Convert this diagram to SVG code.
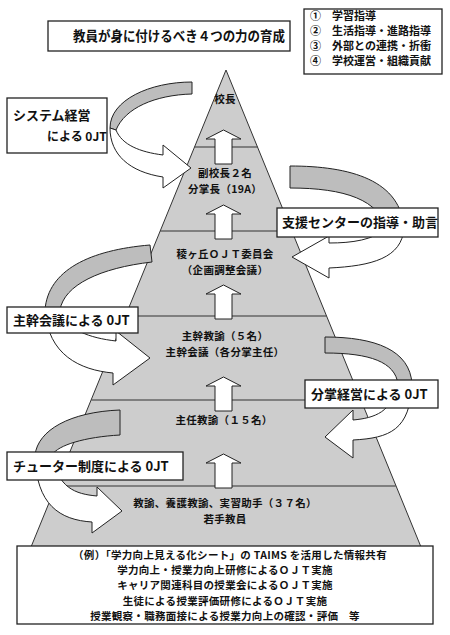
<svg xmlns="http://www.w3.org/2000/svg" xmlns:xlink="http://www.w3.org/1999/xlink" width="450" height="635" viewBox="0 0 450 635">
<style>
text{font-family:"Noto Sans CJK JP","Noto Sans",sans-serif;font-weight:700;fill:#111}
.box{fill:#fff;stroke:#222;stroke-width:1.3}
.band{fill:#bdbdbd;stroke:#222;stroke-width:1}
.front{fill:#fff;stroke:#222;stroke-width:1}
.up{fill:#fff;stroke:#222;stroke-width:1}
.div{stroke:#333;stroke-width:1.2}
.t11{font-size:10.5px;letter-spacing:0.3px}
.t13{font-size:13px}
.lg{font-size:11px}
.c{text-anchor:middle}
</style>
<defs>
<path id="uparrow" d="M223.5,0 L241,9 L232,9 L232,34 L215,34 L215,9 L206,9 Z"/>
</defs>
<rect width="450" height="635" fill="#fff"/>

<g id="pyramid">
<polygon points="226,70 421,547 31,547" fill="#cdcdcd" stroke="#333" stroke-width="1"/>
<line class="div" x1="194.6" y1="147" x2="257.4" y2="147"/>
<line class="div" x1="160.3" y1="231" x2="291.7" y2="231"/>
<line class="div" x1="125.6" y1="316" x2="326.4" y2="316"/>
<line class="div" x1="91.4" y1="400" x2="360.6" y2="400"/>
<line class="div" x1="56.3" y1="486" x2="395.7" y2="486"/>
</g>

<g id="level-up-arrows">
<use href="#uparrow" class="up" y="130"/>
<use href="#uparrow" class="up" y="205"/>
<use href="#uparrow" class="up" y="285"/>
<use href="#uparrow" class="up" y="377"/>
<use href="#uparrow" class="up" y="454"/>
</g>

<g id="level-1"><text class="t11 c" x="225" y="103">校長</text></g>
<g id="level-2"><text class="t11 c" x="225" y="177">副校長２名</text><text class="t11 c" x="225" y="192.5">分掌長（19A）</text></g>
<g id="level-3"><text class="t11 c" x="225" y="258">稜ヶ丘ＯＪＴ委員会</text><text class="t11 c" x="225" y="273.5">（企画調整会議）</text></g>
<g id="level-4"><text class="t11 c" x="225" y="340">主幹教諭（５名）</text><text class="t11 c" x="225" y="355.5">主幹会議（各分掌主任）</text></g>
<g id="level-5"><text class="t11 c" x="224" y="424">主任教諭（１５名）</text></g>
<g id="level-6"><text class="t11 c" x="225" y="507">教諭、養護教諭、実習助手（３７名）</text><text class="t11 c" x="225" y="522.5">若手教員</text></g>

<g id="connectors">
<!-- システム経営 -->
<path class="band" d="M192,82 C150,82 110,100 110,128 L116,130 C125,108 155,95 192,94 Z"/>
<path class="front" d="M110,128 C110,155 130,172 163,177 L163,188 L191,168 L163,145 L163,155 C140,152 122,145 116,130 Z"/>
<!-- 支援センター -->
<path class="band" d="M290,166 C350,166 402,180 404,230 L386,230 C380,200 345,188 290,188 Z"/>
<path class="front" d="M404,228 C402,258 372,266 329,268 L329,278 L292,257 L329,236 L329,243 C352,243 374,240 386,228 Z"/>
<!-- 主幹会議 -->
<path class="band" d="M150,245 C90,250 48,270 45,310 L60,310 C64,285 100,268 152,262 Z"/>
<path class="front" d="M45,310 C48,355 80,370 113,373 L113,385 L150,358 L116,331 L116,341 C90,338 66,330 60,310 Z"/>
<!-- 分掌経営 -->
<path class="band" d="M325,337 C375,337 410,350 412,384 L398,384 C395,362 370,353 325,353 Z"/>
<path class="front" d="M412,384 C410,430 390,438 353,440 L353,458 L325,437 L353,410 L353,420 C375,418 392,412 398,384 Z"/>
<!-- チューター制度 -->
<path class="band" d="M120,410 C70,412 38,430 35,455 L52,455 C58,445 85,437 120,435 Z"/>
<path class="front" d="M35,455 C36,505 60,520 92,522 L92,533 L122,511 L97,487 L97,496 C75,494 58,488 52,455 Z"/>
</g>

<g id="title">
<rect class="box" x="48" y="21" width="242" height="30"/>
<text x="73" y="41" style="font-size:13.5px" textLength="212" lengthAdjust="spacingAndGlyphs">教員が身に付けるべき４つの力の育成</text>
</g>

<g id="legend">
<rect class="box" x="304" y="9" width="138" height="65"/>
<text class="lg" x="310" y="20">①　学習指導</text>
<text class="lg" x="310" y="35">②　生活指導・進路指導</text>
<text class="lg" x="310" y="50">③　外部との連携・折衝</text>
<text class="lg" x="310" y="65">④　学校運営・組織貢献</text>
</g>

<g id="system-ojt">
<rect class="box" x="7" y="98" width="100" height="55"/>
<text class="t13" x="13" y="120">システム経営</text>
<text x="47" y="141" style="font-size:12px">による 0JT</text>
</g>

<g id="support-center">
<rect class="box" x="277" y="208" width="161" height="29"/>
<text class="t13" x="282" y="227">支援センターの指導・助言</text>
</g>

<g id="kanbu-ojt">
<rect class="box" x="7" y="307" width="131" height="26"/>
<text class="t13" x="13" y="325">主幹会議による 0JT</text>
</g>

<g id="bunsho-ojt">
<rect class="box" x="305" y="380" width="133" height="28"/>
<text class="t13" x="311" y="399">分掌経営による 0JT</text>
</g>

<g id="tutor-ojt">
<rect class="box" x="7" y="452" width="176" height="28"/>
<text class="t13" x="13" y="471">チューター制度による 0JT</text>
</g>

<g id="examples">
<rect class="box" x="17" y="546" width="416" height="78"/>
<text class="t11 c" x="230" y="559">（例）「学力向上見える化シート」の TAIMS を活用した情報共有</text>
<text class="t11 c" x="225" y="574.2">学力向上・授業力向上研修によるＯＪＴ実施</text>
<text class="t11 c" x="225" y="589.4">キャリア関連科目の授業会によるＯＪＴ実施</text>
<text class="t11 c" x="225" y="604.6">生徒による授業評価研修によるＯＪＴ実施</text>
<text class="t11 c" x="225" y="619.8">授業観察・職務面接による授業力向上の確認・評価　等</text>
</g>
</svg>
